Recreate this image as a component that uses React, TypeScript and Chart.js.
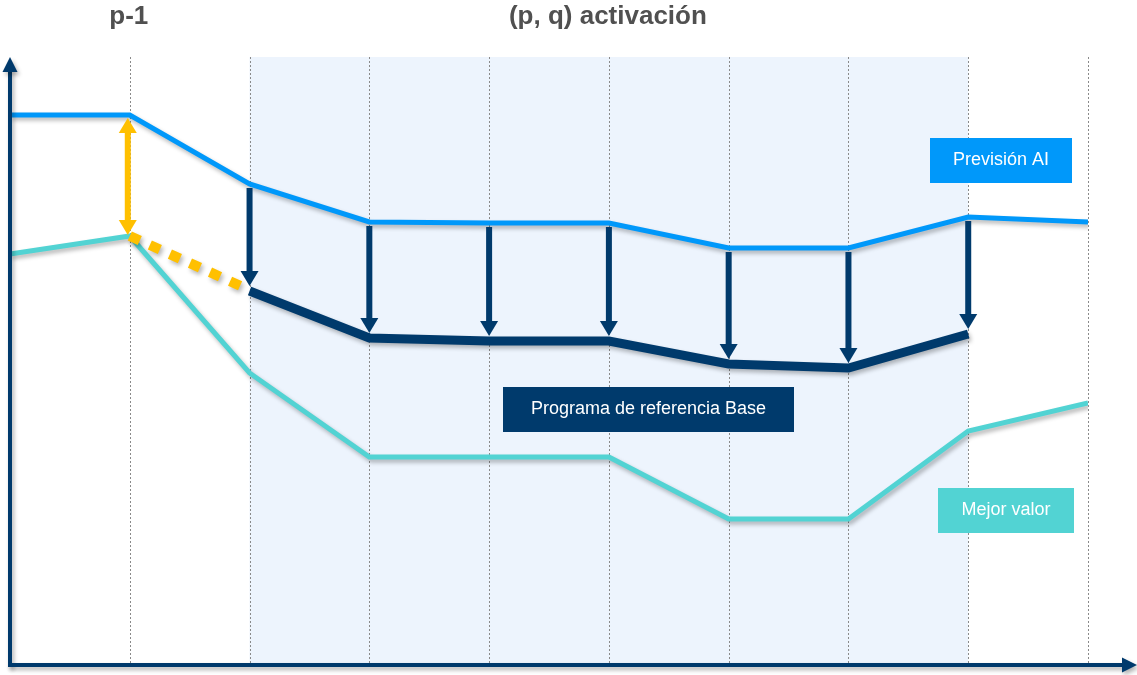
import React, { useEffect, useRef } from "react";
import { Chart, registerables } from "chart.js";

Chart.register(...registerables);

const categories = ["0", "1", "2", "3", "4", "5", "6", "7", "8", "9"];
const previsionAI = [550, 550, 481, 443, 442, 442, 417, 417, 448, 443];
const mejorValor = [411, 429, 292, 208, 208, 208, 146, 146, 234, 262];
const programaBase = [null, null, 374, 327, 324, 324, 301, 297, 331, null];
const transicion = [null, 429, 375, null, null, null, null, null, null, null];
const arrowIdx = [2, 3, 4, 5, 6, 7, 8];
const shadedFrom = 2;
const shadedTo = 8;
const titles = [
  { text: "p-1", at: 1 },
  { text: "(p, q) activación", at: 5 },
];

const BLUE = "#0098FA";
const TEAL = "#52D3D3";
const NAVY = "#003A6C";
const YELLOW = "#FFC000";

function drawArrowHead(ctx: CanvasRenderingContext2D, x: number, y: number, dir: number, w: number, l: number) {
  ctx.beginPath();
  ctx.moveTo(x, y);
  ctx.lineTo(x - w / 2, y - dir * l);
  ctx.lineTo(x + w / 2, y - dir * l);
  ctx.closePath();
  ctx.fill();
}

const diagramPlugin = {
  id: "diagram",
  beforeDatasetsDraw(chart: any) {
    const { ctx, chartArea, scales } = chart;
    const xs = scales.x;
    ctx.save();
    ctx.fillStyle = "#EDF4FD";
    const x1 = xs.getPixelForValue(shadedFrom);
    const x2 = xs.getPixelForValue(shadedTo);
    ctx.fillRect(x1, chartArea.top, x2 - x1, chartArea.bottom - chartArea.top);
    ctx.strokeStyle = "#8a8a8a";
    ctx.lineWidth = 1;
    ctx.setLineDash([2, 2]);
    for (let i = 1; i < categories.length; i++) {
      const x = Math.round(xs.getPixelForValue(i)) + 0.5;
      ctx.beginPath();
      ctx.moveTo(x, chartArea.top);
      ctx.lineTo(x, chartArea.bottom);
      ctx.stroke();
    }
    ctx.restore();
  },
  beforeDatasetDraw(chart: any) {
    const ctx = chart.ctx;
    ctx.save();
    ctx.shadowColor = "rgba(0,0,0,0.28)";
    ctx.shadowBlur = 4;
    ctx.shadowOffsetX = 2;
    ctx.shadowOffsetY = 3;
  },
  afterDatasetDraw(chart: any) {
    chart.ctx.restore();
  },
  afterDatasetsDraw(chart: any) {
    const { ctx, scales, chartArea } = chart;
    const xs = scales.x;
    const ys = scales.y;
    ctx.save();
    // navy arrows
    ctx.fillStyle = NAVY;
    for (const i of arrowIdx) {
      const x = xs.getPixelForValue(i);
      const yTop = ys.getPixelForValue(previsionAI[i]) + 4;
      const yBot = ys.getPixelForValue(programaBase[i] as number) - 5;
      ctx.fillRect(x - 3, yTop, 6, yBot - yTop - 12);
      drawArrowHead(ctx, x, yBot, 1, 18, 15);
    }
    // yellow double arrow
    ctx.fillStyle = YELLOW;
    const xa = xs.getPixelForValue(1) - 2;
    const ya1 = ys.getPixelForValue(previsionAI[1]) + 3;
    const ya2 = ys.getPixelForValue(mejorValor[1]) - 1;
    ctx.fillRect(xa - 3, ya1 + 12, 6, ya2 - ya1 - 24);
    drawArrowHead(ctx, xa, ya1, -1, 18, 15);
    drawArrowHead(ctx, xa, ya2, 1, 18, 15);

    // label boxes
    const boxes = [
      { text: "Previsión AI", x: 930, y: 138, w: 142, h: 45, color: BLUE },
      { text: "Programa de referencia Base", x: 503, y: 387, w: 291, h: 45, color: NAVY },
      { text: "Mejor valor", x: 938, y: 488, w: 136, h: 45, color: TEAL },
    ];
    ctx.font = "18px 'Liberation Sans', Arial, sans-serif";
    ctx.textAlign = "center";
    ctx.textBaseline = "middle";
    for (const b of boxes) {
      ctx.fillStyle = b.color;
      ctx.fillRect(b.x, b.y, b.w, b.h);
      ctx.fillStyle = "#ffffff";
      ctx.fillText(b.text, b.x + b.w / 2, b.y + b.h / 2);
    }

    // titles
    ctx.font = "bold 26px 'Liberation Sans', Arial, sans-serif";
    ctx.fillStyle = "#505050";
    for (const t of titles) {
      ctx.fillText(t.text, xs.getPixelForValue(t.at) - 1, 17);
    }

    // axes
    ctx.shadowColor = "rgba(0,0,0,0.3)";
    ctx.shadowBlur = 4;
    ctx.shadowOffsetX = 2;
    ctx.shadowOffsetY = 3;
    ctx.fillStyle = NAVY;
    const ax = chartArea.left;
    const ay = chartArea.bottom;
    ctx.fillRect(ax - 2, chartArea.top + 12, 4, ay - chartArea.top - 10);
    ctx.fillRect(ax - 2, ay - 2, chart.width - ax - 12, 4);
    drawArrowHead(ctx, ax, chartArea.top, -1, 15, 15);
    ctx.beginPath();
    ctx.moveTo(chart.width, ay);
    ctx.lineTo(chart.width - 15, ay - 7.5);
    ctx.lineTo(chart.width - 15, ay + 7.5);
    ctx.closePath();
    ctx.fill();
    ctx.restore();
  },
};

export default function App() {
  const ref = useRef<HTMLCanvasElement>(null);
  useEffect(() => {
    if (!ref.current) return;
    const chart = new Chart(ref.current, {
      type: "line",
      data: {
        labels: categories,
        datasets: [
          {
            label: "Programa de referencia Base",
            data: programaBase,
            borderColor: NAVY,
            borderWidth: 9,
            pointRadius: 0,
            borderCapStyle: "butt",
            borderJoinStyle: "miter",
          },
          {
            label: "Transición",
            data: transicion,
            borderColor: YELLOW,
            borderWidth: 10,
            borderDash: [11, 11],
            pointRadius: 0,
            borderCapStyle: "butt",
          },
          {
            label: "Previsión AI",
            data: previsionAI,
            borderColor: BLUE,
            borderWidth: 5,
            pointRadius: 0,
          },
          {
            label: "Mejor valor",
            data: mejorValor,
            borderColor: TEAL,
            borderWidth: 5,
            pointRadius: 0,
          },
        ],
      } as any,
      options: {
        animation: false,
        responsive: false,
        spanGaps: false,
        layout: { padding: { left: 10, right: 49, top: 57, bottom: 10 } },
        plugins: { legend: { display: false }, tooltip: { enabled: false }, title: { display: false } },
        scales: {
          x: { type: "linear", min: 0, max: 9, display: false },
          y: { type: "linear", min: 0, max: 608, display: false },
        },
      } as any,
      plugins: [diagramPlugin],
    });
    return () => chart.destroy();
  }, []);
  return (
    <div style={{ position: "fixed", left: 0, top: 0, width: 1137, height: 675, background: "#fff" }}>
      <canvas ref={ref} width={1137} height={675} style={{ width: 1137, height: 675, display: "block" }} />
    </div>
  );
}
